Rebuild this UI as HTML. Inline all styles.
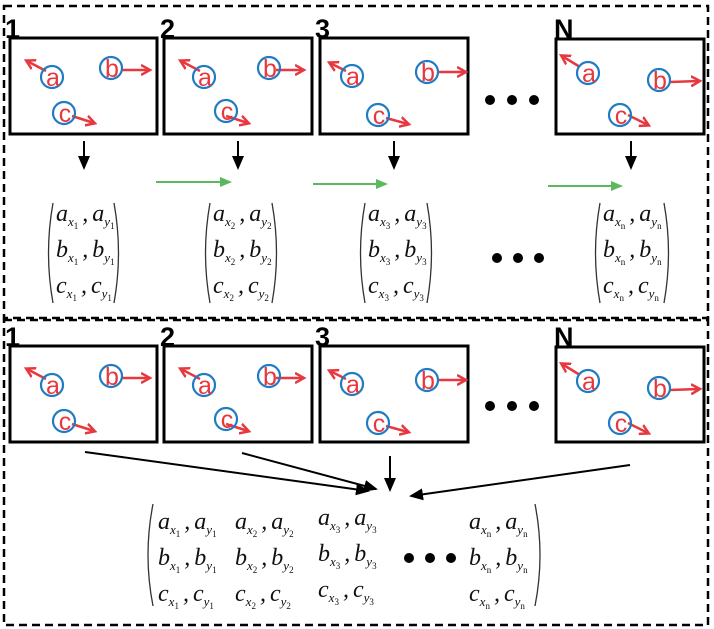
<!DOCTYPE html>
<html><head><meta charset="utf-8"><style>
html,body{margin:0;background:#fff;width:714px;height:629px;position:relative;overflow:hidden;font-family:"Liberation Serif",serif}
svg{position:absolute;left:0;top:0}
.m{position:absolute;font-style:italic;font-size:24px;line-height:36px;white-space:nowrap;color:#111}
.m sub{font-size:13px;vertical-align:-5px;line-height:0}
.m sub sub{font-size:9px;vertical-align:-3px;font-style:normal;line-height:0}
.m s{text-decoration:none;display:inline-block;width:4px}
.n{position:absolute;font-family:"Liberation Sans",sans-serif;font-size:27px;line-height:27px;color:#000;font-weight:bold}
</style></head><body>
<svg width="714" height="629" viewBox="0 0 714 629">
<defs>
<marker id="kb" markerWidth="14" markerHeight="12" refX="12" refY="6" orient="auto" markerUnits="userSpaceOnUse"><path d="M0,0 L14,6 L0,12 Z" fill="#000"/></marker>
<marker id="g" markerWidth="12" markerHeight="10" refX="10" refY="5" orient="auto" markerUnits="userSpaceOnUse"><path d="M0,0 L12,5 L0,10 Z" fill="#5cb85c"/></marker>
<marker id="r" markerWidth="12" markerHeight="12" refX="8" refY="6" orient="auto" markerUnits="userSpaceOnUse"><path d="M0,1 L9,6 L0,11" fill="none" stroke="#e8383f" stroke-width="2.5"/></marker>
</defs>
<g fill="none" stroke="#000" stroke-width="2.5" stroke-dasharray="8,5">
<rect x="4" y="6" width="704" height="312"/>
<rect x="4" y="320" width="704" height="305"/>
</g>
<g id="frames" font-family="Liberation Sans,sans-serif" font-size="25" text-anchor="middle">
<g transform="translate(10,38)">
<rect x="0" y="0" width="147" height="96" fill="none" stroke="#000" stroke-width="3"/>
<line x1="36" y1="33" x2="17" y2="23" stroke="#e8383f" stroke-width="2.5" marker-end="url(#r)"/>
<line x1="112" y1="32" x2="139" y2="32" stroke="#e8383f" stroke-width="2.5" marker-end="url(#r)"/>
<line x1="62" y1="78" x2="84" y2="85" stroke="#e8383f" stroke-width="2.5" marker-end="url(#r)"/>
<circle cx="42" cy="39" r="11" fill="none" stroke="#1f7bc4" stroke-width="2.2"/><text x="43" y="48" fill="#e8383f">a</text>
<circle cx="101" cy="30" r="11" fill="none" stroke="#1f7bc4" stroke-width="2.2"/><text x="102" y="39" fill="#e8383f">b</text>
<circle cx="54" cy="75" r="11" fill="none" stroke="#1f7bc4" stroke-width="2.2"/><text x="55" y="84" fill="#e8383f">c</text>
</g>
<g transform="translate(164,38)">
<rect x="0" y="0" width="148" height="96" fill="none" stroke="#000" stroke-width="3"/>
<line x1="36" y1="33" x2="17" y2="23" stroke="#e8383f" stroke-width="2.5" marker-end="url(#r)"/>
<line x1="112" y1="32" x2="139" y2="32" stroke="#e8383f" stroke-width="2.5" marker-end="url(#r)"/>
<line x1="62" y1="78" x2="84" y2="85" stroke="#e8383f" stroke-width="2.5" marker-end="url(#r)"/>
<circle cx="40" cy="39" r="11" fill="none" stroke="#1f7bc4" stroke-width="2.2"/><text x="41" y="48" fill="#e8383f">a</text>
<circle cx="105" cy="30" r="11" fill="none" stroke="#1f7bc4" stroke-width="2.2"/><text x="106" y="39" fill="#e8383f">b</text>
<circle cx="62" cy="73" r="11" fill="none" stroke="#1f7bc4" stroke-width="2.2"/><text x="63" y="82" fill="#e8383f">c</text>
</g>
<g transform="translate(320,38)">
<rect x="0" y="0" width="148" height="96" fill="none" stroke="#000" stroke-width="3"/>
<line x1="26" y1="33" x2="10" y2="25" stroke="#e8383f" stroke-width="2.5" marker-end="url(#r)"/>
<line x1="118" y1="34" x2="145" y2="34" stroke="#e8383f" stroke-width="2.5" marker-end="url(#r)"/>
<line x1="66" y1="80" x2="88" y2="86" stroke="#e8383f" stroke-width="2.5" marker-end="url(#r)"/>
<circle cx="32" cy="38" r="11" fill="none" stroke="#1f7bc4" stroke-width="2.2"/><text x="33" y="47" fill="#e8383f">a</text>
<circle cx="107" cy="34" r="11" fill="none" stroke="#1f7bc4" stroke-width="2.2"/><text x="108" y="43" fill="#e8383f">b</text>
<circle cx="58" cy="77" r="11" fill="none" stroke="#1f7bc4" stroke-width="2.2"/><text x="59" y="86" fill="#e8383f">c</text>
</g>
<g transform="translate(556,39)">
<rect x="0" y="0" width="148" height="95" fill="none" stroke="#000" stroke-width="3"/>
<line x1="24" y1="28" x2="6" y2="17" stroke="#e8383f" stroke-width="2.5" marker-end="url(#r)"/>
<line x1="114" y1="43" x2="143" y2="42" stroke="#e8383f" stroke-width="2.5" marker-end="url(#r)"/>
<line x1="72" y1="76" x2="92" y2="86" stroke="#e8383f" stroke-width="2.5" marker-end="url(#r)"/>
<circle cx="32" cy="34" r="11" fill="none" stroke="#1f7bc4" stroke-width="2.2"/><text x="33" y="43" fill="#e8383f">a</text>
<circle cx="103" cy="41" r="11" fill="none" stroke="#1f7bc4" stroke-width="2.2"/><text x="104" y="50" fill="#e8383f">b</text>
<circle cx="64" cy="76" r="11" fill="none" stroke="#1f7bc4" stroke-width="2.2"/><text x="65" y="85" fill="#e8383f">c</text>
</g>
</g>
<use href="#frames" transform="translate(0,308)"/>
<g fill="#000"><circle cx="490" cy="100" r="5"/><circle cx="512" cy="100" r="5"/><circle cx="534" cy="100" r="5"/>
<circle cx="490" cy="406" r="5"/><circle cx="512" cy="406" r="5"/><circle cx="534" cy="406" r="5"/>
<circle cx="497" cy="258" r="5"/><circle cx="518" cy="258" r="5"/><circle cx="539" cy="258" r="5"/>
<circle cx="409" cy="558" r="5"/><circle cx="430" cy="558" r="5"/><circle cx="451" cy="558" r="5"/></g>
<g stroke="#000" stroke-width="2">
<line x1="84" y1="141" x2="84" y2="168" marker-end="url(#kb)"/>
<line x1="238" y1="141" x2="238" y2="168" marker-end="url(#kb)"/>
<line x1="394" y1="141" x2="394" y2="168" marker-end="url(#kb)"/>
<line x1="631" y1="141" x2="631" y2="168" marker-end="url(#kb)"/>
<line x1="85" y1="452" x2="368" y2="491" marker-end="url(#kb)"/>
<line x1="242" y1="453" x2="376" y2="489" marker-end="url(#kb)"/>
<line x1="390" y1="456" x2="390" y2="490" marker-end="url(#kb)"/>
<line x1="630" y1="465" x2="411" y2="496" marker-end="url(#kb)"/>
</g>
<g stroke="#5cb85c" stroke-width="2">
<line x1="156" y1="182" x2="230" y2="182" marker-end="url(#g)"/>
<line x1="313" y1="184" x2="386" y2="184" marker-end="url(#g)"/>
<line x1="548" y1="186" x2="621" y2="186" marker-end="url(#g)"/>
</g>
<g fill="none" stroke="#333" stroke-width="1.3">
<path d="M53,203 Q44,253 53,303"/><path d="M114,203 Q123,253 114,303"/>
<path d="M210,203 Q201,253 210,303"/><path d="M272,203 Q281,253 272,303"/>
<path d="M365,203 Q356,253 365,303"/><path d="M427,203 Q436,253 427,303"/>
<path d="M600,203 Q591,253 600,303"/><path d="M664,203 Q673,253 664,303"/>
<path d="M153,504 Q143,555 153,606"/><path d="M535,504 Q545,555 535,606"/>
</g>
</svg>
<div class="n" style="left:5px;top:16px">1</div>
<div class="n" style="left:160px;top:16px">2</div>
<div class="n" style="left:315px;top:16px">3</div>
<div class="n" style="left:554px;top:16px">N</div>
<div class="n" style="left:5px;top:324px">1</div>
<div class="n" style="left:160px;top:324px">2</div>
<div class="n" style="left:315px;top:324px">3</div>
<div class="n" style="left:554px;top:324px">N</div>

<div class="m" style="left:56px;top:196px">a<sub>x<sub>1</sub></sub><s></s>,<s></s>a<sub>y<sub>1</sub></sub><br>b<sub>x<sub>1</sub></sub><s></s>,<s></s>b<sub>y<sub>1</sub></sub><br>c<sub>x<sub>1</sub></sub><s></s>,<s></s>c<sub>y<sub>1</sub></sub></div>
<div class="m" style="left:213px;top:196px">a<sub>x<sub>2</sub></sub><s></s>,<s></s>a<sub>y<sub>2</sub></sub><br>b<sub>x<sub>2</sub></sub><s></s>,<s></s>b<sub>y<sub>2</sub></sub><br>c<sub>x<sub>2</sub></sub><s></s>,<s></s>c<sub>y<sub>2</sub></sub></div>
<div class="m" style="left:368px;top:196px">a<sub>x<sub>3</sub></sub><s></s>,<s></s>a<sub>y<sub>3</sub></sub><br>b<sub>x<sub>3</sub></sub><s></s>,<s></s>b<sub>y<sub>3</sub></sub><br>c<sub>x<sub>3</sub></sub><s></s>,<s></s>c<sub>y<sub>3</sub></sub></div>
<div class="m" style="left:603px;top:196px">a<sub>x<sub>n</sub></sub><s></s>,<s></s>a<sub>y<sub>n</sub></sub><br>b<sub>x<sub>n</sub></sub><s></s>,<s></s>b<sub>y<sub>n</sub></sub><br>c<sub>x<sub>n</sub></sub><s></s>,<s></s>c<sub>y<sub>n</sub></sub></div>

<div class="m" style="left:158px;top:504px">a<sub>x<sub>1</sub></sub><s></s>,<s></s>a<sub>y<sub>1</sub></sub><br>b<sub>x<sub>1</sub></sub><s></s>,<s></s>b<sub>y<sub>1</sub></sub><br>c<sub>x<sub>1</sub></sub><s></s>,<s></s>c<sub>y<sub>1</sub></sub></div>
<div class="m" style="left:235px;top:504px">a<sub>x<sub>2</sub></sub><s></s>,<s></s>a<sub>y<sub>2</sub></sub><br>b<sub>x<sub>2</sub></sub><s></s>,<s></s>b<sub>y<sub>2</sub></sub><br>c<sub>x<sub>2</sub></sub><s></s>,<s></s>c<sub>y<sub>2</sub></sub></div>
<div class="m" style="left:318px;top:500px">a<sub>x<sub>3</sub></sub><s></s>,<s></s>a<sub>y<sub>3</sub></sub><br>b<sub>x<sub>3</sub></sub><s></s>,<s></s>b<sub>y<sub>3</sub></sub><br>c<sub>x<sub>3</sub></sub><s></s>,<s></s>c<sub>y<sub>3</sub></sub></div>
<div class="m" style="left:469px;top:504px">a<sub>x<sub>n</sub></sub><s></s>,<s></s>a<sub>y<sub>n</sub></sub><br>b<sub>x<sub>n</sub></sub><s></s>,<s></s>b<sub>y<sub>n</sub></sub><br>c<sub>x<sub>n</sub></sub><s></s>,<s></s>c<sub>y<sub>n</sub></sub></div>
</body></html>
